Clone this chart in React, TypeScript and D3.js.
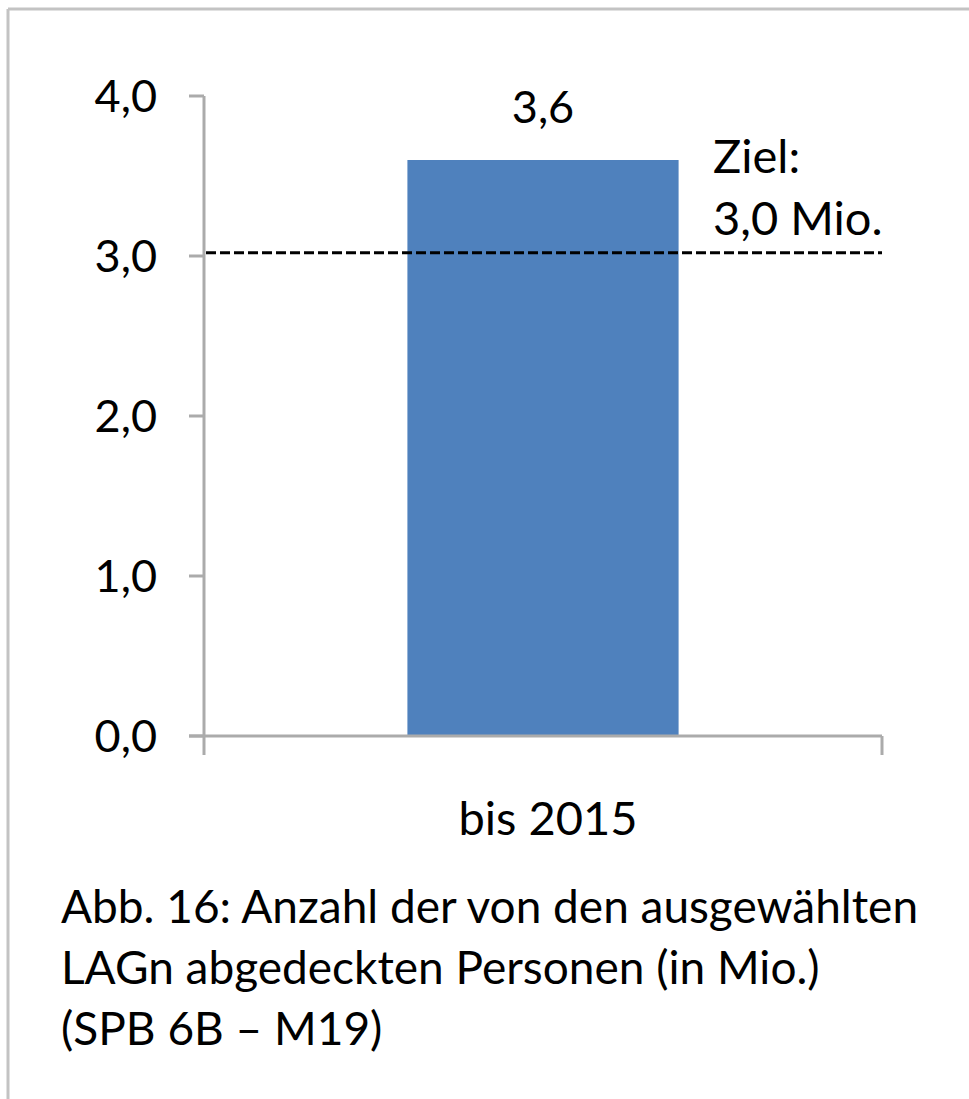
import React from "react";
import * as d3 from "d3";

const categories = ["bis 2015"];
const values = [3.6];
const yTicks = [0, 1, 2, 3, 4];
const targetValue = 3.02;
const targetLabel = ["Ziel:", "3,0 Mio."];
const captionLines = [
  "Abb. 16: Anzahl der von den ausgewählten",
  "LAGn abgedeckten Personen (in Mio.)",
  "(SPB 6B – M19)",
];

const W = 969;
const H = 1099;
const FONT = "Lato, 'Open Sans', sans-serif";
const fmt = (v: number) => d3.format(".1f")(v).replace(".", ",");

export default function App() {
  const x = d3
    .scaleBand<string>()
    .domain(categories)
    .range([204, 882])
    .paddingInner(0.4286)
    .paddingOuter(0.4286);
  const y = d3.scaleLinear().domain([0, 4]).range([736, 96]);
  const axisColor = "#ababab";
  const [x0, x1] = x.range();

  return (
    <>
      <style>{`body{margin:0}`}</style>
      <svg width={W} height={H} style={{ display: "block", background: "#fff" }} fontFamily={FONT}>
        {/* frame */}
        <line x1={8} y1={9} x2={W} y2={9} stroke="#c3c3c3" strokeWidth={3} />
        <line x1={8} y1={9} x2={8} y2={H} stroke="#c3c3c3" strokeWidth={3} />

        {/* bars */}
        {categories.map((c, i) => (
          <g key={c}>
            <rect
              x={x(c)}
              y={y(values[i])}
              width={x.bandwidth()}
              height={y(0) - y(values[i])}
              fill="#4f81bd"
            />
            <text
              x={x(c)! + x.bandwidth() / 2}
              y={y(values[i]) - 37}
              textAnchor="middle"
              fontSize={45}
              fill="#000"
            >
              {fmt(values[i])}
            </text>
            <text
              x={x(c)! + x.bandwidth() / 2 + 5}
              y={835}
              textAnchor="middle"
              fontSize={47}
              fill="#000"
            >
              {c}
            </text>
          </g>
        ))}

        {/* y axis */}
        <line x1={x0} y1={y(4)} x2={x0} y2={755} stroke={axisColor} strokeWidth={3} />
        {yTicks.map((t) => (
          <g key={t}>
            <line x1={189} x2={x0} y1={y(t)} y2={y(t)} stroke={axisColor} strokeWidth={3} />
            <text x={157} y={y(t)} dy="0.36em" textAnchor="end" fontSize={45} fill="#000">
              {fmt(t)}
            </text>
          </g>
        ))}

        {/* x axis */}
        <line x1={189} x2={x1} y1={y(0)} y2={y(0)} stroke={axisColor} strokeWidth={3} />
        <line x1={x1} x2={x1} y1={y(0)} y2={755} stroke={axisColor} strokeWidth={3} />

        {/* target line */}
        <line
          x1={x0 + 2}
          x2={x1}
          y1={y(targetValue)}
          y2={y(targetValue)}
          stroke="#000"
          strokeWidth={3}
          strokeDasharray="10 4"
        />
        {targetLabel.map((l, i) => (
          <text key={l} x={713} y={173 + i * 62} fontSize={47} fill="#000">
            {l}
          </text>
        ))}

        {/* caption */}
        {captionLines.map((l, i) => (
          <text key={l} x={61} y={923 + i * 61} fontSize={46} fill="#000">
            {l}
          </text>
        ))}
      </svg>
    </>
  );
}
